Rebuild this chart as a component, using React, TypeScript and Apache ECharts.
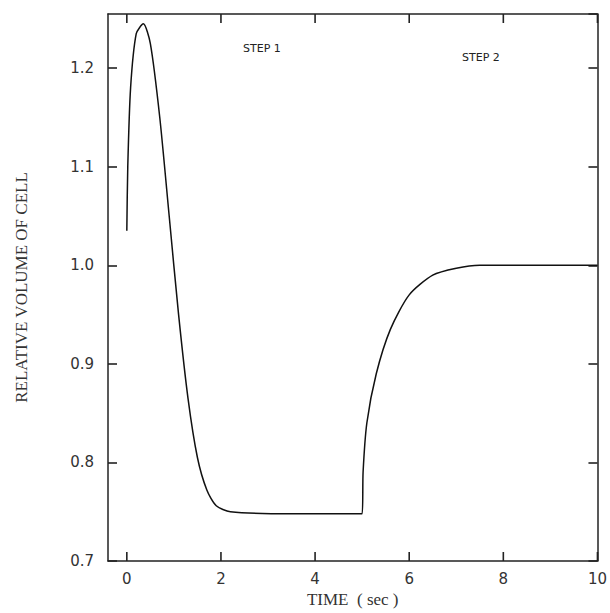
import React, { useEffect, useRef } from "react";
import * as echarts from "echarts";

const volumeCurve: [number, number][] = [
  [0, 1.035], [0.02, 1.1], [0.08, 1.18], [0.2, 1.235], [0.35, 1.245], [0.5, 1.225],
  [0.7, 1.15], [0.9, 1.05], [1.1, 0.95], [1.3, 0.865], [1.5, 0.805], [1.7, 0.772],
  [1.9, 0.756], [2.2, 0.75], [3.5, 0.748], [5, 0.748], [5.02, 0.79], [5.1, 0.84],
  [5.3, 0.89], [5.6, 0.935], [6, 0.97], [6.5, 0.99], [7, 0.997], [7.5, 1.0], [10, 1.0],
];
const xTicks = [0, 2, 4, 6, 8, 10];
const yMin = 0.7;
const yMax = 1.255;
const stepLabels = ["STEP 1", "STEP 2"];

const tickStyle = { color: "#222", width: 1.6 };
const axisBase = {
  axisLine: { onZero: false, lineStyle: { color: "#222", width: 1.5 } },
  axisTick: { show: true, inside: true, length: 9, lineStyle: tickStyle },
  splitLine: { show: false },
};

const App: React.FC = () => {
  const chartRef = useRef<HTMLDivElement>(null);

  useEffect(() => {
    if (!chartRef.current) return;
    document.body.style.margin = "0";
    const chart = echarts.init(chartRef.current, undefined, { renderer: "svg" });
    const labelFont = { fontFamily: "DejaVu Sans", fontSize: 15, color: "#333" };
    const nameFont = { fontFamily: "Liberation Serif", fontSize: 17, color: "#333" };
    chart.setOption({
      animation: false,
      grid: { left: 108, right: 12, top: 14, bottom: 42 },
      xAxis: [
        {
          ...axisBase, type: "value", min: -0.4, max: 10,
          axisTick: { show: false },
          axisLabel: { ...labelFont, margin: 10, customValues: xTicks },
          name: "TIME  ( sec )", nameLocation: "middle", nameGap: 30,
          nameTextStyle: nameFont,
        },
        {
          ...axisBase, type: "value", min: -0.4, max: 10, position: "top",
          axisTick: { show: false },
          axisLabel: { show: false },
        },
      ],
      yAxis: [
        {
          ...axisBase, type: "value", min: yMin, max: yMax, interval: 0.1,
          axisLabel: {
            ...labelFont, margin: 14, showMaxLabel: false,
            formatter: (v: number) => v.toFixed(1),
          },
          name: "RELATIVE VOLUME OF CELL", nameLocation: "middle", nameGap: 78,
          nameTextStyle: nameFont,
        },
        {
          ...axisBase, type: "value", min: yMin, max: yMax, interval: 0.1, position: "right",
          axisLabel: { show: false },
        },
      ],
      graphic: [
        { type: "text", left: 243, top: 43, style: { text: stepLabels[0], font: "11px DejaVu Sans", fill: "#222" } },
        { type: "text", left: 462, top: 52, style: { text: stepLabels[1], font: "11px DejaVu Sans", fill: "#222" } },
      ],
      series: [
        {
          type: "line", data: volumeCurve, smooth: 0.25, showSymbol: false,
          lineStyle: { color: "#111", width: 1.5 },
        },
        {
          type: "custom", data: xTicks.map((t) => [t]), silent: true, clip: false,
          renderItem: (_p: any, api: any) => {
            const bottom = api.coord([api.value(0), yMin]);
            const top = api.coord([api.value(0), yMax]);
            const style = { stroke: "#222", lineWidth: 1.6 };
            return {
              type: "group",
              children: [
                { type: "line", shape: { x1: bottom[0], y1: bottom[1], x2: bottom[0], y2: bottom[1] - 9 }, style },
                { type: "line", shape: { x1: top[0], y1: top[1], x2: top[0], y2: top[1] + 9 }, style },
              ],
            };
          },
        },
      ],
    });
    return () => chart.dispose();
  }, []);

  return <div ref={chartRef} style={{ width: 610, height: 613 }} />;
};

export default App;
